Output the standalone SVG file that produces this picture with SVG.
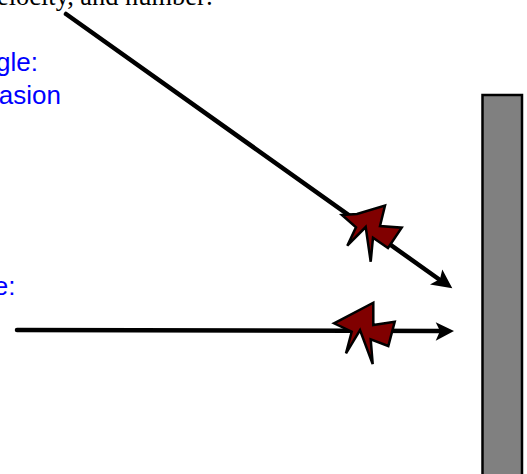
<svg xmlns="http://www.w3.org/2000/svg" width="527" height="474" viewBox="0 0 527 474">
<style>
.blue{font-family:"Liberation Sans",Arial,sans-serif;font-size:26px;fill:#0000ff;text-anchor:end}
.top{font-family:"Liberation Serif","Times New Roman",serif;font-size:26.4px;fill:#000;text-anchor:end}
.conn{stroke:#000;stroke-width:4.5;stroke-linecap:round;fill:none}
.star{fill:#800000;stroke:#000;stroke-width:2.5;stroke-linejoin:miter}
.head{fill:#000}
</style>
<rect width="527" height="474" fill="#fff"/>
<text class="top" x="213" y="5">velocity, and number:</text>
<text class="blue" x="38" y="71">gle:</text>
<text class="blue" x="61" y="104">asion</text>
<text class="blue" x="15.5" y="295">e:</text>
<g id="wall"><rect x="482.5" y="95" width="39.5" height="385" fill="#808080" stroke="#000" stroke-width="2.5"/></g>
<g id="connectors">
<line class="conn" x1="66" y1="14" x2="440" y2="280"/>
<polygon class="head" points="452.3,288.3 430,284.5 440,279 442.3,269.5"/>
<line class="conn" x1="17" y1="330" x2="442" y2="331"/>
<polygon class="head" points="454,331 435.7,322.3 440,331 435.7,340.7"/>
</g>
<g id="particle1"><polygon class="star" points="342,215 357,214 385,205.5 380,226 401.7,227.7 388,248 373,237.7 370.7,261.7 365.7,227 347.3,245.7 356,227.3"/></g>
<g id="particle2"><polygon class="star" points="334,323.3 373.3,302.7 373.3,325 394.7,321.7 388.3,346 370.7,339.3 372.7,364 360,330 346,353.3 351.7,331.7"/></g>
</svg>
